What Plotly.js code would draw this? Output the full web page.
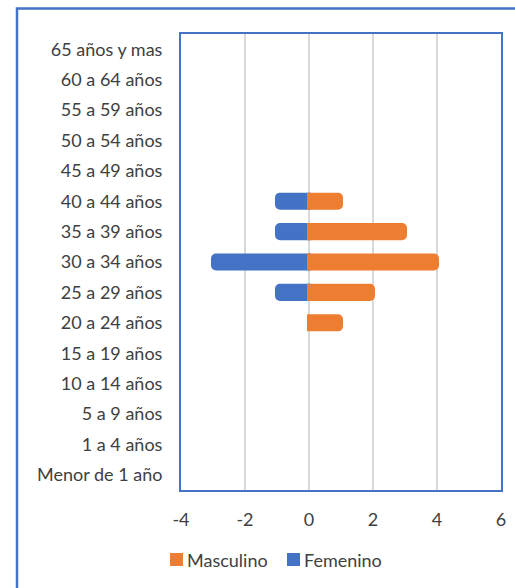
<!DOCTYPE html>
<html>
<head>
<meta charset="utf-8">
<script src="https://cdn.plot.ly/plotly-3.0.1.min.js"></script>
<style>
  html, body { margin: 0; padding: 0; background: #fff; }
  #chart { width: 515px; height: 588px; }
</style>
</head>
<body>
<div id="chart"></div>
<script>
// Categories listed from bottom to top
var categories = [
  "Menor de 1 año", "1 a 4 años", "5 a 9 años", "10 a 14 años", "15 a 19 años",
  "20 a 24 años", "25 a 29 años", "30 a 34 años", "35 a 39 años", "40 a 44 años",
  "45 a 49 años", "50 a 54 años", "55 a 59 años", "60 a 64 años", "65 años y mas"
];
var masculino = [0, 0, 0, 0, 0, 1, 2, 4, 3, 1, 0, 0, 0, 0, 0];
var femenino  = [0, 0, 0, 0, 0, 0, -1, -3, -1, -1, 0, 0, 0, 0, 0];
var xTicks = [-4, -2, 0, 2, 4, 6];
var seriesNames = ["Masculino", "Femenino"];

var orange = "#ED7D31";
var blue = "#4472C4";
var textColor = "#404040";
var fontFamily = "Lato, 'Open Sans', sans-serif";
var fontSize = 18;

function outlineWidths(vals) {
  return vals.map(function (v) { return v === 0 ? 0 : 4; });
}

var traces = [
  {
    type: "bar", orientation: "h", name: seriesNames[1],
    y: categories, x: femenino,
    marker: { color: blue, cornerradius: 3, line: { color: blue, width: outlineWidths(femenino) } },
    showlegend: false
  },
  {
    type: "bar", orientation: "h", name: seriesNames[0],
    y: categories, x: masculino,
    marker: { color: orange, cornerradius: 3, line: { color: orange, width: outlineWidths(masculino) } },
    showlegend: false
  }
];

// custom legend (squares + labels) placed in paper coordinates
var legendShapes = [
  { type: "rect", xref: "paper", yref: "paper", x0: -0.0344, x1: 0.00625, y0: -0.1667, y1: -0.1382,
    fillcolor: orange, line: { width: 0 } },
  { type: "rect", xref: "paper", yref: "paper", x0: 0.33125, x1: 0.371875, y0: -0.1667, y1: -0.1382,
    fillcolor: blue, line: { width: 0 } }
];
var legendAnnotations = [
  { xref: "paper", yref: "paper", x: 0.0125, y: -0.1535, xanchor: "left", yanchor: "middle",
    text: seriesNames[0], showarrow: false, font: { family: fontFamily, size: fontSize, color: textColor } },
  { xref: "paper", yref: "paper", x: 0.378, y: -0.1535, xanchor: "left", yanchor: "middle",
    text: seriesNames[1], showarrow: false, font: { family: fontFamily, size: fontSize, color: textColor } }
];

var layout = {
  width: 515, height: 588,
  margin: { l: 181, r: 14, t: 34, b: 98 },
  paper_bgcolor: "#ffffff",
  plot_bgcolor: "#ffffff",
  font: { family: fontFamily, size: fontSize, color: textColor },
  barmode: "overlay",
  bargap: 0.57,
  showlegend: false,
  xaxis: {
    range: [-4, 6],
    tickvals: xTicks,
    ticktext: xTicks.map(String),
    showgrid: true, gridcolor: "#d9d9d9", gridwidth: 1.5,
    zeroline: true, zerolinecolor: "#d9d9d9", zerolinewidth: 1.5,
    showline: true, linecolor: blue, linewidth: 2, mirror: true,
    ticks: "", ticklabelstandoff: 12,
    fixedrange: true
  },
  yaxis: {
    type: "category",
    categoryorder: "array", categoryarray: categories,
    showgrid: false, zeroline: false,
    showline: true, linecolor: blue, linewidth: 2, mirror: true,
    ticks: "", ticklabelstandoff: 13,
    fixedrange: true
  },
  shapes: [
    {
      type: "path", xref: "paper", yref: "paper",
      path: "M -0.5125 -0.5 L -0.5125 1.0559 L 1.2 1.0559",
      line: { color: blue, width: 2.5 }
    }
  ].concat(legendShapes),
  annotations: legendAnnotations
};

Plotly.newPlot("chart", traces, layout, { displayModeBar: false, staticPlot: true });
</script>
</body>
</html>
